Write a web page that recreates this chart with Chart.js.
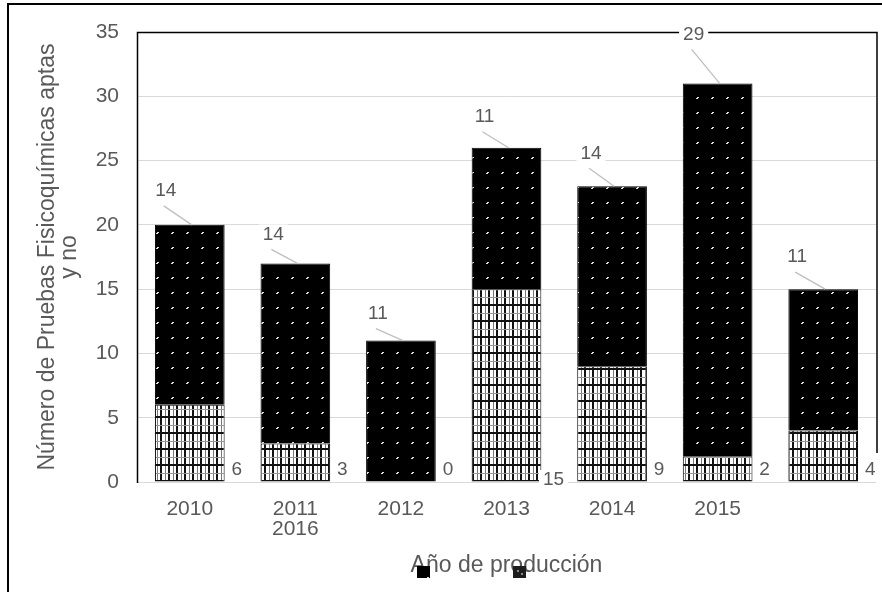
<!DOCTYPE html>
<html>
<head>
<meta charset="utf-8">
<script src="https://cdn.jsdelivr.net/npm/chart.js@4"></script>
<style>
  html, body { margin: 0; padding: 0; background: #fff; }
  #wrap { width: 882px; height: 592px; position: relative; }
</style>
</head>
<body>
<div id="wrap"><canvas id="c" width="882" height="592"></canvas></div>
<script>
// ---- data ----
const categories = ['2010', ['2011', '2016'], '2012', '2013', '2014', '2015', ''];
const bottomValues = [6, 3, 0, 15, 9, 2, 4];
const topValues = [14, 14, 11, 11, 14, 29, 11];
const yTicks = [0, 5, 10, 15, 20, 25, 30, 35];
const yTitle = ['Número de Pruebas Fisicoquímicas aptas', 'y no'];
const xTitle = 'Año de producción';

// ---- styles (label placement offsets, in px) ----
const TEXT = '#595959';
const FONT = '"Liberation Sans", Arial, sans-serif';
const topLabelDx = [-24, -22, -23, -22, -21, -24, -26];
const topLabelDy = [-34, -29, -27, -31, -33, -49, -32];
const bottomLabelDy = [0, 0, 0, 10, 0, 0, 0];

function makeDots() {
  const c = document.createElement('canvas'); c.width = 15; c.height = 15;
  const g = c.getContext('2d');
  g.fillStyle = '#000'; g.fillRect(0, 0, 15, 15);
  g.fillStyle = '#e0e0e0'; g.fillRect(7, 7, 2, 1); g.fillRect(6, 8, 2, 1);
  return g.createPattern(c, 'repeat');
}
function makeGrid() {
  const c = document.createElement('canvas'); c.width = 8; c.height = 16;
  const g = c.getContext('2d');
  g.fillStyle = '#fff'; g.fillRect(0, 0, 8, 16);
  g.fillStyle = '#111'; g.fillRect(0, 0, 2, 16);
  g.fillStyle = '#777'; g.fillRect(5, 0, 1, 16);
  g.fillStyle = '#111'; g.fillRect(0, 0, 8, 2);
  g.fillStyle = '#999'; g.fillRect(0, 9, 8, 1);
  return g.createPattern(c, 'repeat');
}
const dots = makeDots();
const grid = makeGrid();

function labelBox(ctx, text, x, y) {
  ctx.font = '19px ' + FONT;
  const w = ctx.measureText(text).width;
  ctx.fillStyle = '#fff';
  ctx.fillRect(x - w / 2 - 4, y - 10, w + 8, 20);
  ctx.fillStyle = TEXT;
  ctx.textAlign = 'center';
  ctx.textBaseline = 'middle';
  ctx.fillText(text, x, y);
}

const decor = {
  id: 'decor',
  afterDatasetsDraw(chart) {
    const ctx = chart.ctx, ca = chart.chartArea;
    ctx.save();
    // plot frame
    ctx.strokeStyle = '#000'; ctx.lineWidth = 1.5;
    ctx.beginPath();
    ctx.moveTo(ca.left + 0.5, ca.bottom + 1);
    ctx.lineTo(ca.left + 0.5, ca.top + 0.5);
    ctx.lineTo(ca.right + 1, ca.top + 0.5);
    ctx.lineTo(ca.right + 1, ca.bottom - 29);
    ctx.stroke();
    // top segment labels with leader lines
    const m1 = chart.getDatasetMeta(1);
    m1.data.forEach((el, i) => {
      const lx = el.x + topLabelDx[i];
      const ly = el.y + topLabelDy[i];
      ctx.strokeStyle = '#bfbfbf'; ctx.lineWidth = 1.3;
      ctx.beginPath(); ctx.moveTo(lx - 2, ly + 15); ctx.lineTo(el.x + 2, el.y); ctx.stroke();
      labelBox(ctx, String(topValues[i]), lx, ly);
    });
    // bottom segment labels
    const m0 = chart.getDatasetMeta(0);
    m0.data.forEach((el, i) => {
      labelBox(ctx, String(bottomValues[i]), el.x + 47, ca.bottom - 12 + bottomLabelDy[i]);
    });
    ctx.restore();
  },
  afterDraw(chart) {
    const ctx = chart.ctx;
    ctx.save();
    // legend swatches (no text in the original)
    ctx.fillStyle = dots; ctx.fillRect(417, 566, 13, 12);
    ctx.fillStyle = '#1e1e1e'; ctx.fillRect(513, 566, 13, 12);
    ctx.fillStyle = '#8a8a8a'; ctx.fillRect(517, 570, 2, 2); ctx.fillRect(521, 573, 2, 2);
    // outer border
    ctx.strokeStyle = '#000'; ctx.lineWidth = 2;
    ctx.beginPath(); ctx.moveTo(8, 592); ctx.lineTo(8, 4); ctx.lineTo(882, 4); ctx.stroke();
    ctx.restore();
  }
};

new Chart(document.getElementById('c'), {
  type: 'bar',
  data: {
    labels: categories,
    datasets: [
      { label: '', data: bottomValues, backgroundColor: grid, borderColor: '#000', borderWidth: 1 },
      { label: '', data: topValues, backgroundColor: dots, borderColor: '#000', borderWidth: 1 }
    ]
  },
  options: {
    responsive: false,
    animation: false,
    layout: { padding: { left: 0, right: 6, top: 32, bottom: 0 } },
    datasets: { bar: { categoryPercentage: 1, barPercentage: 0.66 } },
    plugins: { legend: { display: false }, tooltip: { enabled: false } },
    scales: {
      x: {
        stacked: true,
        grid: { display: false, drawTicks: false },
        border: { display: false },
        ticks: { color: TEXT, font: { family: FONT, size: 21, lineHeight: 0.96 }, padding: 17, maxRotation: 0 },
        title: { display: true, text: xTitle, color: TEXT, font: { family: FONT, size: 23, lineHeight: 0.96 }, padding: { top: 0, bottom: 15 } },
        afterFit(s) { s.height = 110; }
      },
      y: {
        stacked: true,
        min: 0, max: 35,
        afterBuildTicks(s) { s.ticks = yTicks.map(v => ({ value: v })); },
        grid: { color: '#d9d9d9', lineWidth: 1, drawTicks: false },
        border: { display: false },
        ticks: { color: TEXT, font: { family: FONT, size: 21 }, padding: 18 },
        title: { display: true, text: yTitle, color: TEXT, font: { family: FONT, size: 23, lineHeight: 0.96 }, padding: { top: 37, bottom: 0 } },
        afterFit(s) { s.width = 137; }
      }
    }
  },
  plugins: [decor]
});
</script>
</body>
</html>
